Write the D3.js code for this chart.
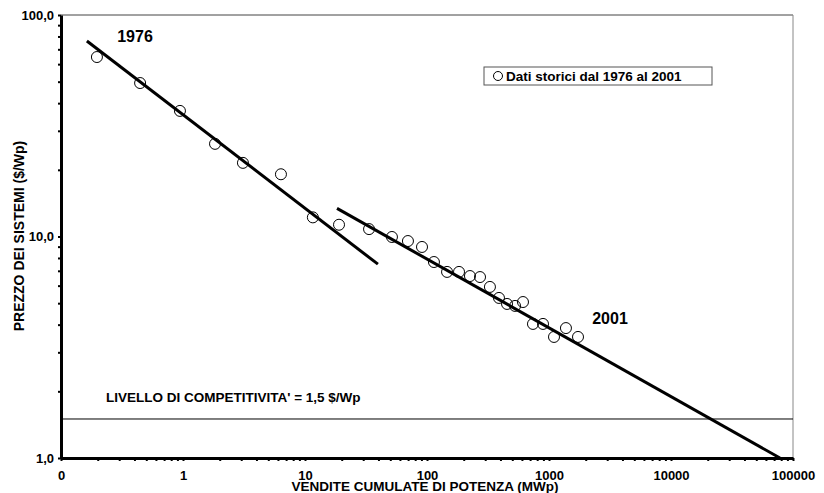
<!DOCTYPE html>
<html>
<head>
<meta charset="utf-8">
<script src="https://cdn.jsdelivr.net/npm/d3@7"></script>
<style>
  body { margin: 0; background: #fff; }
  svg { display: block; font-family: Arial, "Liberation Sans", sans-serif; font-weight: bold; }
</style>
</head>
<body>
<div id="chart"></div>
<script>
// cumulative sales (MWp) and system price ($/Wp), 1976 -> 2001
var vendite = [0.197, 0.445, 0.944, 1.83, 3.10, 6.35, 11.6, 19.0, 33.5, 51.6, 69.8, 91.0, 114, 146,
  183, 225, 272, 328, 389, 453, 527, 612, 739, 893, 1099, 1377, 1729];
var prezzo = [64.6, 49.3, 36.9, 26.2, 21.5, 19.1, 12.2, 11.3, 10.8, 9.95, 9.54, 8.97, 7.67, 6.92,
  6.92, 6.63, 6.56, 5.92, 5.28, 4.96, 4.86, 5.06, 4.03, 4.03, 3.52, 3.86, 3.52];

// trend lines (end points)
var trend1 = [[0.163, 76.3], [39.6, 7.5]];
var trend2 = [[18.3, 13.4], [78200, 1.0]];

var xTicks = [0.1, 1, 10, 100, 1000, 10000, 100000];
var yTicks = [1, 10, 100];
var competitivita = 1.5;

var width = 824, height = 493;
var mLeft = 61, mRight = 793, mTop = 15, mBottom = 458;

var svg = d3.select("#chart").append("svg")
  .attr("width", width)
  .attr("height", height);

var x = d3.scaleLog().domain([0.1, 100000]).range([mLeft, mRight]);
var y = d3.scaleLog().domain([1, 100]).range([mBottom, mTop]);

// minor ticks 2..9 of every decade
var xMinor = [], yMinor = [];
xTicks.slice(0, -1).forEach(function (t) {
  for (var k = 2; k < 10; k++) xMinor.push(t * k);
});
yTicks.slice(0, -1).forEach(function (t) {
  for (var k = 2; k < 10; k++) yMinor.push(t * k);
});

// plot frame (top / right)
svg.append("line").attr("x1", mLeft).attr("x2", mRight).attr("y1", mTop).attr("y2", mTop)
  .attr("stroke", "#444").attr("stroke-width", 1);
svg.append("line").attr("x1", mRight).attr("x2", mRight).attr("y1", mTop).attr("y2", mBottom)
  .attr("stroke", "#888").attr("stroke-width", 1);

// competitiveness level
svg.append("line")
  .attr("x1", mLeft).attr("x2", mRight)
  .attr("y1", y(competitivita)).attr("y2", y(competitivita))
  .attr("stroke", "#000").attr("stroke-width", 1);

svg.append("text")
  .attr("x", 106).attr("y", 402)
  .style("font-size", "13.5px")
  .text("LIVELLO DI COMPETITIVITA' = 1,5 $/Wp");

// trend lines
var line = d3.line().x(function (d) { return x(d[0]); }).y(function (d) { return y(d[1]); });
[trend1, trend2].forEach(function (t) {
  svg.append("path").attr("d", line(t))
    .attr("fill", "none").attr("stroke", "#000").attr("stroke-width", 3);
});

// data points
svg.selectAll("circle.pt")
  .data(vendite)
  .enter()
  .append("circle")
    .attr("class", "pt")
    .attr("cx", function (d) { return x(d); })
    .attr("cy", function (d, i) { return y(prezzo[i]); })
    .attr("r", 5.5)
    .attr("fill", "none")
    .attr("stroke", "#000")
    .attr("stroke-width", 1);

// axes
var xAxis = svg.append("g").attr("transform", "translate(0," + mBottom + ")")
  .call(d3.axisBottom(x).tickValues(xTicks).tickSize(3).tickSizeOuter(0)
    .tickFormat(function (d) { return d < 1 ? "0" : d3.format("d")(d); }));
xAxis.select(".domain").attr("stroke-width", 3);
xAxis.selectAll(".tick line").attr("stroke-width", 2);
xAxis.selectAll("text").attr("y", 13).style("font-size", "13px").style("font-weight", "bold")
  .attr("fill", "#000").style("font-family", "Arial, 'Liberation Sans', sans-serif");

svg.append("g").attr("transform", "translate(0," + mBottom + ")")
  .call(d3.axisBottom(x).tickValues(xMinor).tickSize(3).tickFormat(""))
  .call(function (g) { g.select(".domain").remove(); })
  .selectAll(".tick line").attr("stroke-width", 2);

var yAxis = svg.append("g").attr("transform", "translate(" + mLeft + ",0)")
  .call(d3.axisLeft(y).tickValues(yTicks).tickSize(3).tickSizeOuter(0)
    .tickFormat(function (d) { return d3.format(".1f")(d).replace(".", ","); }));
yAxis.select(".domain").attr("stroke-width", 3);
yAxis.selectAll(".tick line").attr("stroke-width", 2);
yAxis.selectAll("text").attr("x", -7).style("font-size", "13px").style("font-weight", "bold")
  .attr("fill", "#000").style("font-family", "Arial, 'Liberation Sans', sans-serif");

svg.append("g").attr("transform", "translate(" + mLeft + ",0)")
  .call(d3.axisLeft(y).tickValues(yMinor).tickSize(3).tickFormat(""))
  .call(function (g) { g.select(".domain").remove(); })
  .selectAll(".tick line").attr("stroke-width", 2);

// axis titles
svg.append("text")
  .attr("x", 425).attr("y", 491)
  .attr("text-anchor", "middle")
  .style("font-size", "13.5px")
  .text("VENDITE CUMULATE DI POTENZA (MWp)");

svg.append("text")
  .attr("transform", "translate(24,236) rotate(-90)")
  .attr("text-anchor", "middle")
  .style("font-size", "14px")
  .text("PREZZO DEI SISTEMI ($/Wp)");

// year labels
svg.append("text").attr("x", 135).attr("y", 42).attr("text-anchor", "middle")
  .style("font-size", "16px").text("1976");
svg.append("text").attr("x", 610).attr("y", 324).attr("text-anchor", "middle")
  .style("font-size", "16px").text("2001");

// legend
var lg = svg.append("g");
lg.append("rect")
  .attr("x", 484).attr("y", 67).attr("width", 228).attr("height", 18)
  .attr("fill", "#fff").attr("stroke", "#555").attr("stroke-width", 1);
lg.append("circle")
  .attr("cx", 498).attr("cy", 76).attr("r", 4.5)
  .attr("fill", "none").attr("stroke", "#000").attr("stroke-width", 1);
lg.append("text")
  .attr("x", 506).attr("y", 81)
  .style("font-size", "13.5px")
  .text("Dati storici dal 1976 al 2001");
</script>
</body>
</html>
